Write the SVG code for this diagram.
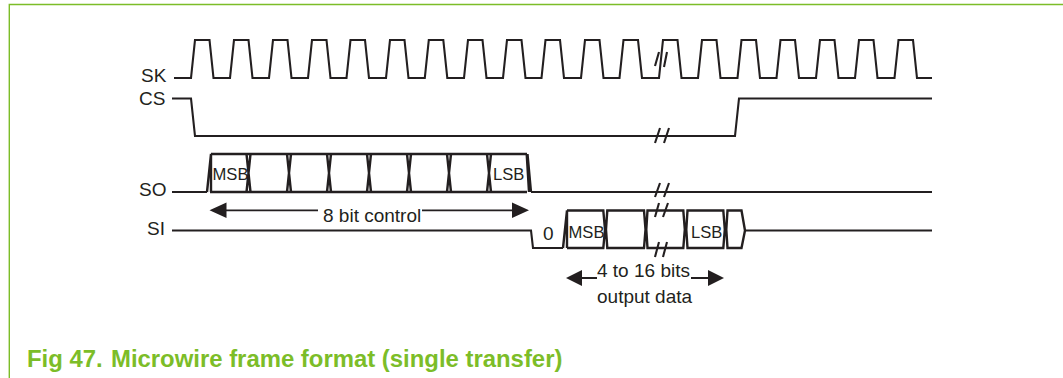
<svg xmlns="http://www.w3.org/2000/svg" width="1063" height="378" viewBox="0 0 1063 378">
<style>
.w{fill:none;stroke:#231f20;stroke-width:2.100;stroke-linejoin:miter}
.bus{fill:none;stroke:#231f20;stroke-width:2.400}
.h{fill:none;stroke:#231f20;stroke-width:1.800}
.a{fill:#231f20}
text{font-family:"Liberation Sans",Arial,sans-serif;fill:#231f20}
.l{font-size:19px}
.s{font-size:16.6px}
.c{font-family:"Liberation Sans",Arial,sans-serif;font-size:23.9px;font-weight:bold;fill:#7cbd28}
</style>
<rect width="1063" height="378" fill="#fff"/>
<path d="M1063 4.500H9.300V378" fill="none" stroke="#7cbd28" stroke-width="1.400"/>
<g id="connectors">
<path class="w" d="M174 78H191L195 40H209.500L213.500 78H230L234 40H248.500L252.500 78H269L273 40H287.500L291.500 78H308L312 40H326.500L330.500 78H346.500L350.500 40H365L369 78H386L390 40H404.500L408.500 78H424.800L428.800 40H443.300L447.300 78H464L468 40H482.500L486.500 78H503L507 40H521.500L525.500 78H541.500L545.500 40H560L564 78H581L585 40H599.500L603.500 78H619.500L623.500 40H638L642 78H659L663 40H677.500L681.500 78H698L702 40H716.500L720.500 78H737.500L741.500 40H756L760 78H776.500L780.500 40H795L799 78H816L820 40H834.500L838.500 78H855L859 40H873.500L877.500 78H894.500L898.500 40H913L917 78H932"/>
<path class="w" d="M172 98.500H191L195 136H735L739 98.500H932"/>
<path class="w" d="M172 192H207M531 192H932"/>
<path class="w" d="M172 230.500H531L533 248H563"/>
<path class="w" d="M745 230.500H932"/>
<path class="w" d="M655 66L659 52M664 67L667 52M655 143L660 128M664 143L669 128M655 197L660 183M664 197L669 183M655 217L659 203M663 217L668 203M655 257L659 242M663 257L667 242"/>
<path class="h" d="M226 210.300H318M422 210.300H512"/>
<path class="a" d="M209.500 210.300L226.500 202.500V218ZM529 210.300L512 202.500V218Z"/>
<path class="h" d="M581 278H597M691 278H708"/>
<path class="a" d="M566 278L582 270V286ZM724 278L708 270V286Z"/>
</g>
<g id="so-bus" class="bus">
<path d="M211 154H527M210 192H527"/>
<path d="M207 192L211 154V192M526.700 154L529 192M527.500 154L531 192"/>
<path d="M246.500 154L250.500 192M250.500 154L246.500 192M287 154L291 192M291 154L287 192M327 154L331 192M331 154L327 192M367 154L371 192M371 154L367 192M407 154L411 192M411 154L407 192M447 154L451 192M451 154L447 192M487 154L491 192M491 154L487 192"/>
</g>
<g id="si-bus" class="bus">
<path d="M563 248L567 210.500V248"/>
<path d="M567 210.500H603.300L605 229.500L603.300 248H567M607.300 210.500H644L645.500 229.500L644 248H607.300L606 229.500ZM647.500 210.500H683.300L684.800 229.500L683.300 248H647.500L646.300 229.500ZM687.500 210.500H723.300L724.800 229.500L723.300 248H687.500L686.300 229.500ZM727.500 210.500H741.500L745 230.500L741.500 248H727.500L726.300 229.500Z"/>
</g>
<g id="sk"><text class="l" x="141" y="82">SK</text></g>
<g id="cs"><text class="l" x="139" y="105">CS</text></g>
<g id="so"><text class="l" x="139" y="196">SO</text></g>
<g id="si"><text class="l" x="147" y="235">SI</text></g>
<g id="labels">
<text class="s" x="212.500" y="180">MSB</text>
<text class="s" x="493" y="180">LSB</text>
<text class="l" x="323" y="222">8 bit control</text>
<text class="l" x="543" y="240">0</text>
<text class="s" x="568.500" y="238">MSB</text>
<text class="s" x="691" y="238">LSB</text>
<text class="l" x="597" y="277">4 to 16 bits</text>
<text class="l" x="597" y="303">output data</text>
</g>
<g id="caption"><text class="c" x="27" y="367">Fig 47.</text><text class="c" x="111" y="367">Microwire frame format (single transfer)</text></g>
</svg>
